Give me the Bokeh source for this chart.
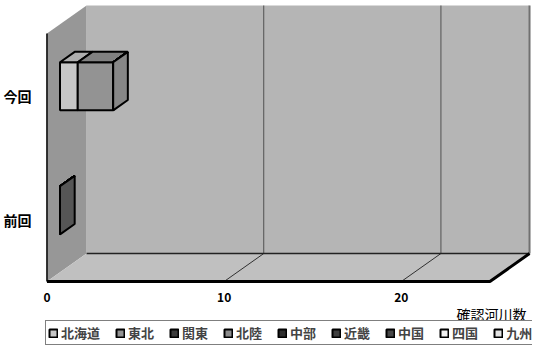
from bokeh.plotting import figure
from bokeh.layouts import column
from bokeh.models import Range1d, FixedTicker, Legend, LegendItem, Label
from bokeh.embed import file_html
from bokeh.resources import INLINE

# ---------------- data ----------------
categories = ["前回", "今回"]
regions = ["北海道", "東北", "関東", "北陸", "中部", "近畿", "中国", "四国", "九州"]
# values per region, order = categories
hokkaido = [0, 1]
tohoku = [0, 2]
kanto = [0, 0]
hokuriku = [0, 0]
chubu = [0, 0]
kinki = [0, 0]
chugoku = [0, 0]
shikoku = [0, 0]
kyushu = [0, 0]
series_values = [hokkaido, tohoku, kanto, hokuriku, chubu, kinki, chugoku, shikoku, kyushu]
x_ticks = [0, 10, 20]
x_max = 25
x_title = "確認河川数"

# ---------------- style ----------------
colors = ["#c6c6c6", "#939393", "#3c3c3c", "#8c8c8c", "#2e2e2e",
          "#404040", "#474747", "#f2f2f2", "#e4e4e4"]
empty_cap_color = "#565656"
FONT = "Noto Sans CJK JP"
PXX = 17.9           # px per x unit
PXY = 124.0          # px per category unit
DXPX, DYPX = 40, 28  # depth offset in px
DX = DXPX / PXX
DY = DYPX / PXY
F1, F2 = 0.33, 0.70  # bar depth band
HALF = 0.194         # half bar thickness

FRAME_W = 494
FRAME_H = 280


def shade(hexc, k):
    h = hexc.lstrip("#")
    r, g, b = (int(h[i:i + 2], 16) for i in (0, 2, 4))
    return "#%02x%02x%02x" % tuple(max(0, min(255, int(c * k))) for c in (r, g, b))


x0r = -3.5 / PXX
y0r = -2 / PXY
p = figure(width=540, height=304, output_backend="svg", toolbar_location=None,
           x_range=Range1d(x0r, x0r + FRAME_W / PXX),
           y_range=Range1d(y0r, y0r + FRAME_H / PXY),
           min_border_left=38, min_border_right=8, min_border_top=3,
           min_border_bottom=21)
p.grid.visible = False
p.outline_line_color = None
p.background_fill_color = "white"
p.border_fill_color = "white"

# ---------------- walls ----------------
top = 2.0
p.patch([DX, x_max + DX, x_max + DX, DX], [DY, DY, top + DY, top + DY],
        fill_color="#b5b5b5", line_color=None)
p.patch([0, DX, DX, 0], [0, DY, top + DY, top], fill_color="#979797", line_color=None)
p.patch([0, x_max, x_max + DX, DX], [0, 0, DY, DY], fill_color="#c0c0c0", line_color=None)

for t in x_ticks[1:]:
    p.line([t + DX, t + DX], [DY, top + DY], line_color="#505050", line_width=1)
    p.line([t, t + DX], [0, DY], line_color="#303030", line_width=1)

p.line([DX, x_max + DX], [DY, DY], line_color="#222222", line_width=1.5)
p.line([x_max + DX, x_max + DX], [DY, top + DY], line_color="#707070", line_width=2)
p.line([0, 0], [0, top], line_color="black", line_width=1.5)
p.line([0, x_max, x_max + DX], [0, 0, DY], line_color="black", line_width=3)

# ---------------- bars ----------------
front_xs, front_ys = [], []
for si, vals in enumerate(series_values):
    fx, fy, tx, ty = [], [], [], []
    for ci, cat in enumerate(categories):
        base = sum(series_values[k][ci] for k in range(si))
        v = vals[ci]
        x0, x1 = base, base + v
        y0, y1 = ci + 0.5 - HALF, ci + 0.5 + HALF
        fx.append([x0 + F1 * DX, x1 + F1 * DX, x1 + F1 * DX, x0 + F1 * DX])
        fy.append([y0 + F1 * DY, y0 + F1 * DY, y1 + F1 * DY, y1 + F1 * DY])
        tx.append([x0 + F1 * DX, x1 + F1 * DX, x1 + F2 * DX, x0 + F2 * DX])
        ty.append([y1 + F1 * DY, y1 + F1 * DY, y1 + F2 * DY, y1 + F2 * DY])
    p.patches(xs=fx, ys=fy, fill_color=colors[si], line_color="black", line_width=2)
    p.patches(xs=tx, ys=ty, fill_color=shade(colors[si], 0.88), line_color="black", line_width=2)
    front_xs.append(fx)
    front_ys.append(fy)

# right end caps
for ci, cat in enumerate(categories):
    total = sum(s[ci] for s in series_values)
    last = None
    for si, s in enumerate(series_values):
        if s[ci] > 0:
            last = si
    col = shade(colors[last], 0.92) if last is not None else empty_cap_color
    y0, y1 = ci + 0.5 - HALF, ci + 0.5 + HALF
    p.patch([total + F1 * DX, total + F2 * DX, total + F2 * DX, total + F1 * DX],
            [y0 + F1 * DY, y0 + F2 * DY, y1 + F2 * DY, y1 + F1 * DY],
            fill_color=col, line_color="black", line_width=2)

# ---------------- axes ----------------
xa = p.xaxis[0]
xa.ticker = FixedTicker(ticks=x_ticks)
xa.axis_line_color = None
xa.major_tick_line_color = None
xa.minor_tick_line_color = None
xa.major_label_standoff = 3
xa.major_label_text_font = FONT
xa.major_label_text_font_style = "bold"
xa.major_label_text_font_size = "12px"
xa.major_label_text_color = "black"

ya = p.yaxis[0]
ya.ticker = FixedTicker(ticks=[i + 0.5 for i in range(len(categories))])
ya.major_label_overrides = {i + 0.5: c for i, c in enumerate(categories)}
ya.axis_line_color = None
ya.major_tick_line_color = None
ya.minor_tick_line_color = None
ya.major_label_standoff = 6
ya.major_label_text_font = FONT
ya.major_label_text_font_style = "bold"
ya.major_label_text_font_size = "14px"
ya.major_label_text_color = "black"

# ---------------- strip under the chart: axis title + legend ----------------
pl = figure(width=540, height=42, output_backend="svg", toolbar_location=None,
            x_range=Range1d(1000, 1494), y_range=Range1d(1000, 1042),
            x_axis_location=None, y_axis_location=None,
            min_border_left=0, min_border_right=0, min_border_top=0, min_border_bottom=0)
pl.grid.visible = False
pl.outline_line_color = None
pl.background_fill_color = "white"
pl.border_fill_color = "white"

pl.add_layout(Label(x=1488, y=1033, text=x_title, text_align="right",
                    text_baseline="middle", text_font=FONT, text_font_size="14px",
                    text_color="black"))

legend_renderers = [pl.patches(xs=front_xs[i], ys=front_ys[i], fill_color=colors[i],
                               line_color="black", line_width=2)
                    for i in range(len(regions))]
legend = Legend(items=[LegendItem(label=regions[i], renderers=[legend_renderers[i]])
                       for i in range(len(regions))],
                orientation="horizontal", location=(2, 1),
                label_text_font=FONT, label_text_font_style="bold",
                label_text_font_size="13px", glyph_width=10, glyph_height=10,
                label_standoff=3, spacing=15, padding=2, margin=0,
                border_line_color="black", border_line_width=1,
                background_fill_color="white", background_fill_alpha=1)
pl.add_layout(legend, "center")

open("out.html", "w").write(file_html(column(p, pl, spacing=0), INLINE))
